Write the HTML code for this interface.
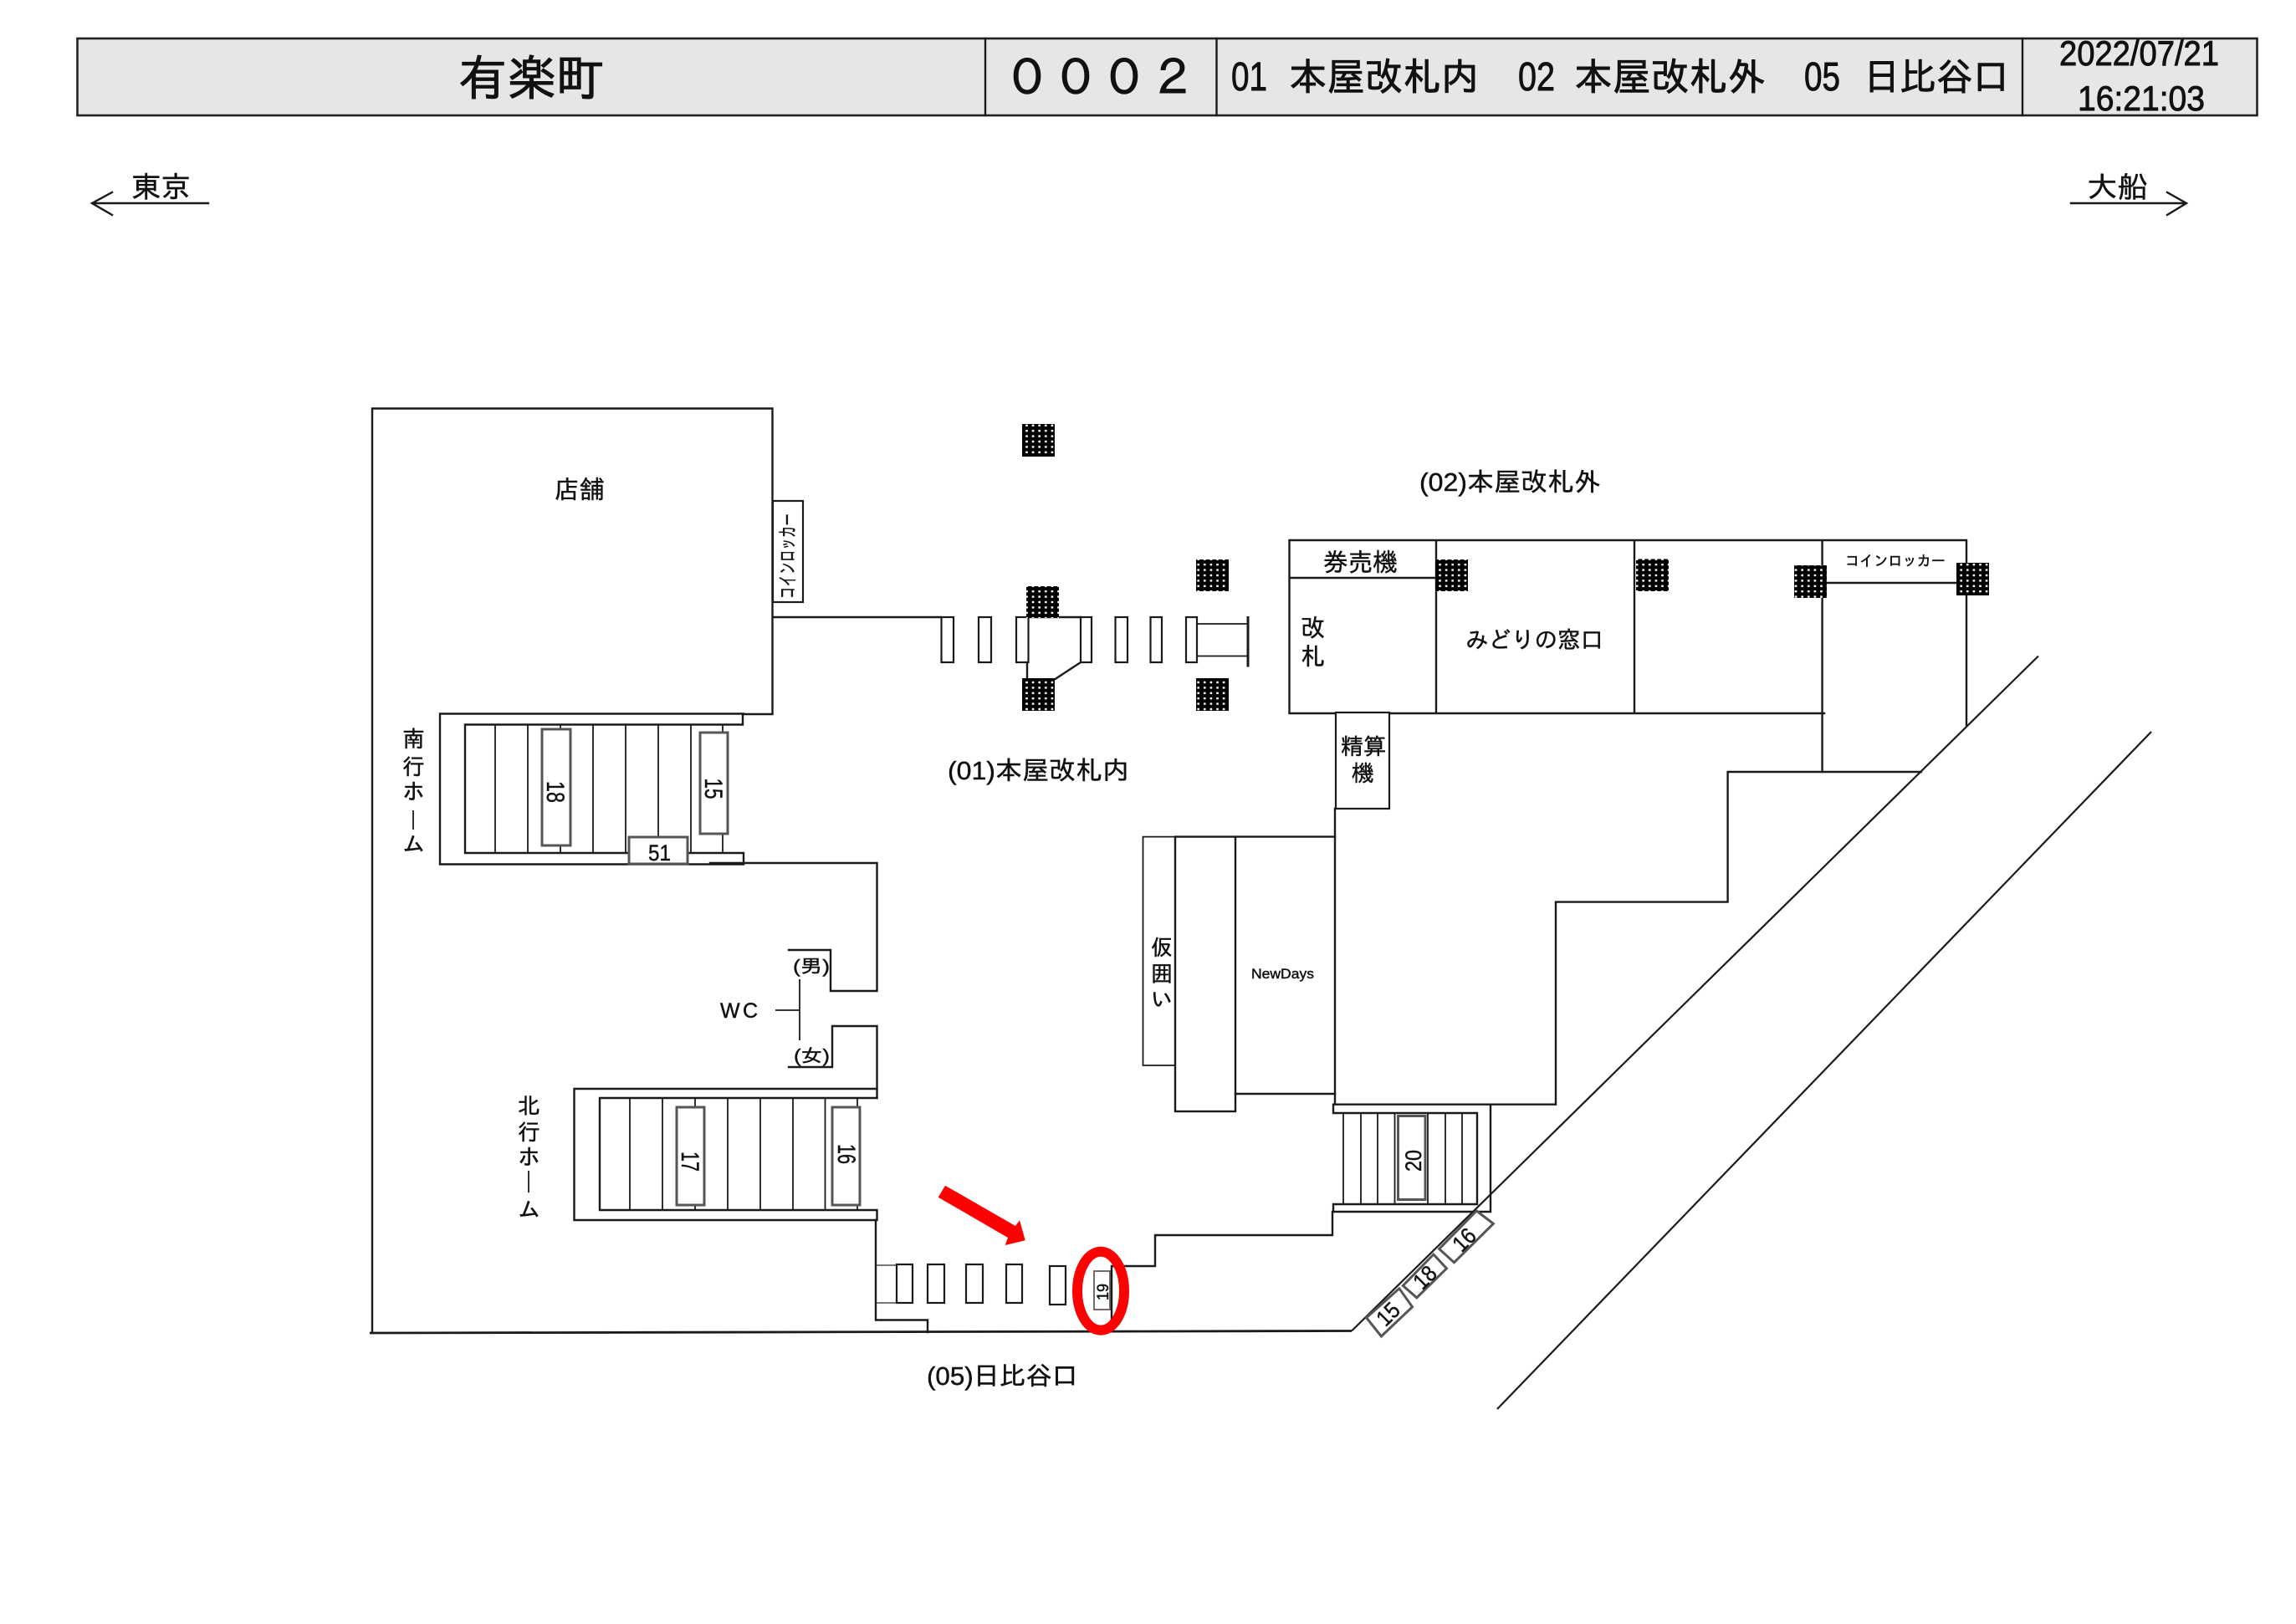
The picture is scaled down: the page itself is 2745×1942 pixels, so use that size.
<!DOCTYPE html>
<html lang="ja">
<head>
<meta charset="utf-8">
<title>有楽町</title>
<style>
html,body{margin:0;padding:0;background:#fff;}
svg{display:block;}
text{font-family:"Liberation Sans","IPAGothic","Noto Sans CJK JP",sans-serif;fill:#111;stroke:#111;stroke-width:.45px;}
text.h{stroke-width:.9px;}
.l{fill:none;stroke:#1a1a1a;stroke-width:2.4;stroke-linecap:square;}
.t{fill:none;stroke:#1a1a1a;stroke-width:1.8;}
.g{fill:#fff;stroke:#555;stroke-width:3;}
.b{fill:#fff;stroke:#1a1a1a;stroke-width:2.2;}
.s{fill:url(#dots);}
</style>
</head>
<body>
<svg xmlns="http://www.w3.org/2000/svg" width="2745" height="1942" viewBox="0 0 2745 1942">
<defs>
<pattern id="dots" width="7.6" height="6.4" patternUnits="userSpaceOnUse">
<rect width="7.6" height="6.4" fill="#000"/>
<rect x="2.6" y="2" width="2.6" height="2.4" fill="#fff"/>
</pattern>
</defs>
<rect width="2745" height="1942" fill="#fff"/>

<!-- header -->
<rect x="92.500" y="46" width="2606" height="92" fill="#e6e6e6" stroke="#222" stroke-width="2.6"/>
<path class="l" d="M1178 46V138M1454.500 46V138M2418 46V138"/>
<text class="h" x="548" y="114" font-size="58" textLength="175" lengthAdjust="spacingAndGlyphs">有楽町</text>
<text class="h" x="1199" y="114" font-size="58">０００２</text>
<text class="h" x="1472" y="108" font-size="48" textLength="43" lengthAdjust="spacingAndGlyphs">01</text>
<text class="h" x="1541" y="108" font-size="46" textLength="227" lengthAdjust="spacingAndGlyphs">本屋改札内</text>
<text class="h" x="1815" y="108" font-size="48" textLength="44" lengthAdjust="spacingAndGlyphs">02</text>
<text class="h" x="1882" y="108" font-size="46" textLength="229" lengthAdjust="spacingAndGlyphs">本屋改札外</text>
<text class="h" x="2157" y="108" font-size="48" textLength="43" lengthAdjust="spacingAndGlyphs">05</text>
<text class="h" x="2228" y="108" font-size="46" textLength="174" lengthAdjust="spacingAndGlyphs">日比谷口</text>
<text class="h" x="2462" y="78" font-size="42" textLength="191" lengthAdjust="spacingAndGlyphs">2022/07/21</text>
<text class="h" x="2484" y="132" font-size="42" textLength="152" lengthAdjust="spacingAndGlyphs">16:21:03</text>

<!-- direction arrows -->
<text x="157" y="236" font-size="35" textLength="71" lengthAdjust="spacingAndGlyphs">東京</text>
<path class="l" d="M111 243H249M134 230L110 243L134 257"/>
<text x="2495" y="236" font-size="35" textLength="73" lengthAdjust="spacingAndGlyphs">大船</text>
<path class="l" d="M2476 243H2613M2591 230L2614 243L2591 257"/>

<!-- store / left hall -->
<path class="l" d="M445 1593V488.500H923.500V854H889"/>
<rect class="b" x="924" y="599" width="36" height="121"/>
<text transform="translate(950 716) rotate(-90)" font-size="24" textLength="102" lengthAdjust="spacingAndGlyphs">コインロッカー</text>
<path class="l" d="M924 738H1125"/>
<text x="663" y="596" font-size="30">店舗</text>

<!-- south stairs -->
<path class="l" d="M889 853.500H526V1033.500H889V1020H556V866.500H888V853.500"/>
<path class="t" d="M592 866.500V1020M631 866.500V1020M670 866.500V1020M709 866.500V1020M748 866.500V1020M787 866.500V1020M826 866.500V1020M864 866.500V1020"/>
<rect class="g" x="648" y="872" width="34" height="139"/>
<rect class="g" x="837" y="876" width="33" height="121"/>
<rect class="g" x="752" y="1001" width="70" height="32"/>
<text transform="translate(654 947) rotate(90)" font-size="30" text-anchor="middle" textLength="26" lengthAdjust="spacingAndGlyphs">18</text>
<text transform="translate(843 943) rotate(90)" font-size="30" text-anchor="middle" textLength="25" lengthAdjust="spacingAndGlyphs">15</text>
<text x="775" y="1029" font-size="27" textLength="27" lengthAdjust="spacingAndGlyphs">51</text>
<text x="481" y="893" font-size="27">南</text>
<text x="481" y="926" font-size="27">行</text>
<text x="481" y="956" font-size="27">ホ</text>
<path class="t" d="M494 969V992"/>
<text x="481" y="1019" font-size="27">ム</text>

<!-- WC -->
<path class="l" d="M849 1032H1048.500V1185H993V1136H943"/>
<path class="l" d="M943 1276H995V1227H1048.500V1313"/>
<path class="t" d="M927 1208H956M956 1171V1244"/>
<text x="948" y="1163" font-size="22" textLength="44" lengthAdjust="spacingAndGlyphs">(男)</text>
<text x="949" y="1270" font-size="22" textLength="43" lengthAdjust="spacingAndGlyphs">(女)</text>
<text x="861" y="1217" font-size="25" textLength="45">W C</text>

<!-- north stairs -->
<path class="l" d="M1048.500 1302H686.500V1459H1048.500V1447H717V1313H1048.500"/>
<path class="t" d="M753 1313V1447M792 1313V1447M831 1313V1447M870 1313V1447M909 1313V1447M948 1313V1447M986.500 1313V1447M1025 1313V1447"/>
<rect class="g" x="809" y="1324" width="33" height="117"/>
<rect class="g" x="995" y="1324" width="33" height="117"/>
<text transform="translate(815 1389) rotate(90)" font-size="30" text-anchor="middle" textLength="24" lengthAdjust="spacingAndGlyphs">17</text>
<text transform="translate(1002 1380) rotate(90)" font-size="30" text-anchor="middle" textLength="24" lengthAdjust="spacingAndGlyphs">16</text>
<text x="619" y="1332" font-size="27">北</text>
<text x="619" y="1363" font-size="27">行</text>
<text x="619" y="1393" font-size="27">ホ</text>
<path class="t" d="M632 1400V1426"/>
<text x="619" y="1456" font-size="27">ム</text>

<!-- bottom hall -->
<path class="l" d="M1047 1459V1578.500H1109V1593"/>
<path d="M442 1594L1616 1591.500" fill="none" stroke="#1a1a1a" stroke-width="2.800"/>
<path d="M1048 1513H1072M1048 1558H1072" fill="none" stroke="#777" stroke-width="2"/>
<g class="b">
<rect class="b" x="1072" y="1512" width="19" height="46"/>
<rect class="b" x="1109" y="1512" width="20" height="46"/>
<rect class="b" x="1155" y="1512" width="20" height="46"/>
<rect class="b" x="1203" y="1512" width="19" height="46"/>
<rect class="b" x="1255" y="1514" width="19" height="46"/>
</g>
<rect x="1308" y="1520" width="19" height="46" fill="#fff" stroke="#6a5a5a" stroke-width="1.800"/>
<text transform="translate(1325 1545) rotate(-90)" font-size="19" text-anchor="middle" textLength="20" lengthAdjust="spacingAndGlyphs">19</text>
<path class="l" d="M1329 1592V1514H1381V1477H1593V1449"/>
<text x="1108" y="1656" font-size="31" textLength="181" lengthAdjust="spacingAndGlyphs">(05)日比谷口</text>

<!-- red markers -->
<polygon fill="#ff0000" points="1130,1417.700 1214,1466 1219,1459.300 1225.700,1483.300 1201.700,1489 1205,1480 1121.700,1431.700"/>
<ellipse cx="1316" cy="1543.700" rx="28" ry="47" fill="none" stroke="#ff0000" stroke-width="12"/>

<!-- gate row -->
<path class="t" d="M1431 746H1492M1431 784.500H1492"/>
<path d="M1492 737V797.500" stroke="#1a1a1a" stroke-width="3" fill="none"/>
<path class="l" d="M1229.500 738H1292M1228 738V811M1292 792L1261.600 812"/>
<rect class="b" x="1125.500" y="738" width="14.500" height="54"/>
<rect class="b" x="1170" y="738" width="15" height="54"/>
<rect class="b" x="1215" y="738" width="14.500" height="54"/>
<rect class="b" x="1292" y="738" width="13" height="54"/>
<rect class="b" x="1333.500" y="738" width="14.500" height="54"/>
<rect class="b" x="1375.500" y="738" width="13.500" height="54"/>
<rect class="b" x="1418" y="738" width="13" height="54"/>
<text x="1133" y="932" font-size="31" textLength="217" lengthAdjust="spacingAndGlyphs">(01)本屋改札内</text>
<text x="1697" y="587" font-size="31" textLength="217" lengthAdjust="spacingAndGlyphs">(02)本屋改札外</text>

<!-- ticket block -->
<path class="l" d="M1541.500 853V646H2351V867M1541.500 853H2181M1541.500 691H1717M1717 646V853M1954 646V853M2178.600 646V923M2178.600 697H2351"/>
<text x="1582" y="683" font-size="30" textLength="89" lengthAdjust="spacingAndGlyphs">券売機</text>
<text x="1555" y="761" font-size="29">改</text>
<text x="1555" y="795" font-size="29">札</text>
<text x="1752" y="775" font-size="28" textLength="165" lengthAdjust="spacingAndGlyphs">みどりの窓口</text>
<text x="2206" y="677" font-size="18" textLength="120" lengthAdjust="spacingAndGlyphs">コインロッカー</text>
<rect class="b" x="1597" y="852" width="64" height="115"/>
<text x="1603" y="902" font-size="27" textLength="54" lengthAdjust="spacingAndGlyphs">精算</text>
<text x="1616" y="934" font-size="27">機</text>

<!-- stepped wall -->
<path class="l" d="M1596 967V1320.700H1860V1078.600H2065.600V923H2297"/>
<path d="M2437 784.500L1616 1591.500" fill="none" stroke="#1a1a1a" stroke-width="2.200"/>
<path d="M2572 875L1790 1685" fill="none" stroke="#1a1a1a" stroke-width="2.200"/>

<!-- NewDays -->
<path class="t" d="M1405 1000.600H1366.500V1274H1405"/>
<rect class="l" x="1405" y="1000.600" width="72" height="328.400" fill="#fff"/>
<path class="l" d="M1477 1000.600H1596M1477 1308H1596"/>
<text x="1376" y="1142" font-size="26">仮</text>
<text x="1376" y="1173.500" font-size="26">囲</text>
<text x="1376" y="1204" font-size="26">い</text>
<text x="1496" y="1170" font-size="17" textLength="75" lengthAdjust="spacingAndGlyphs">NewDays</text>

<!-- stairs 20 -->
<path class="l" d="M1782 1320.700V1449H1594V1440H1766V1331H1594V1320.700"/>
<path class="t" d="M1606 1331V1440M1627 1331V1440M1647 1331V1440M1667.500 1331V1440M1707 1331V1440M1728 1331V1440M1748 1331V1440"/>
<rect class="g" x="1671.500" y="1334.500" width="32.500" height="100"/>
<text transform="translate(1699 1388) rotate(-90)" font-size="27" text-anchor="middle" textLength="26" lengthAdjust="spacingAndGlyphs">20</text>

<!-- diagonal ads -->
<polygon class="g" points="1633.600,1575.700 1672.900,1540.800 1688.500,1562.800 1651.400,1598"/>
<polygon class="g" points="1677.300,1537.400 1713.900,1500 1729.500,1516.800 1693.800,1551.800"/>
<polygon class="g" points="1720.600,1493.400 1765.300,1448 1785.400,1463.300 1738.500,1509.700"/>
<text transform="translate(1666 1578) rotate(-45)" font-size="27" text-anchor="middle" textLength="27" lengthAdjust="spacingAndGlyphs">15</text>
<text transform="translate(1710 1534) rotate(-45)" font-size="27" text-anchor="middle" textLength="27" lengthAdjust="spacingAndGlyphs">18</text>
<text transform="translate(1757 1489) rotate(-45)" font-size="27" text-anchor="middle" textLength="27" lengthAdjust="spacingAndGlyphs">16</text>

<!-- pillars -->
<rect class="s" x="1222" y="507" width="39" height="39"/>
<rect class="s" x="1227" y="701" width="39" height="38"/>
<rect class="s" x="1222" y="811" width="39" height="39"/>
<rect class="s" x="1430" y="669" width="39" height="38"/>
<rect class="s" x="1430" y="811" width="39" height="39"/>
<rect class="s" x="1716" y="669" width="39" height="38"/>
<rect class="s" x="1956" y="668.500" width="39" height="38.500"/>
<rect class="s" x="2145" y="676" width="39" height="39"/>
<rect class="s" x="2339" y="673" width="39" height="39"/>
</svg>
</body>
</html>
